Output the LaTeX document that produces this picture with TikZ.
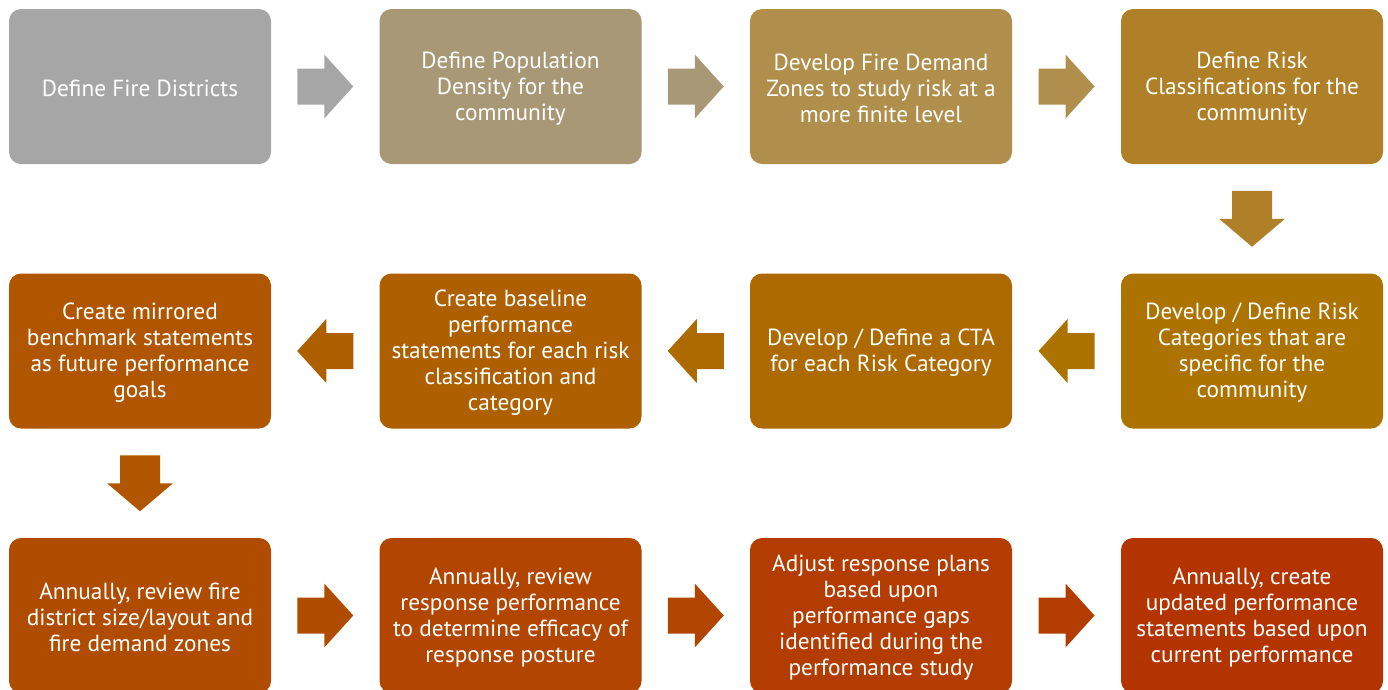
\documentclass[tikz,border=0pt]{standalone}
\usepackage{fontspec}
\setmainfont{PT Sans}
\usetikzlibrary{calc}
\definecolor{c1}{HTML}{A6A6A6}
\definecolor{c2}{HTML}{A99876}
\definecolor{c3}{HTML}{B08F4C}
\definecolor{c4}{HTML}{AF8027}
\definecolor{c5}{HTML}{AC7300}
\definecolor{c6}{HTML}{AD6A00}
\definecolor{c7}{HTML}{AE6000}
\definecolor{c8}{HTML}{B05600}
\definecolor{c9}{HTML}{B04C00}
\definecolor{c10}{HTML}{B24500}
\definecolor{c11}{HTML}{B33D00}
\definecolor{c12}{HTML}{B43400}
\newcommand\rarr[3]{\fill[#3] ($(#1.east)!0.5!(#2.west)$) ++(-28,-18) -- ++(27,0) -- ++(0,-14) -- ++(29,32) -- ++(-29,32) -- ++(0,-14) -- ++(-27,0) -- cycle;}
\newcommand\larr[3]{\fill[#3] ($(#1.west)!0.5!(#2.east)$) ++(28,-18) -- ++(-27,0) -- ++(0,-14) -- ++(-29,32) -- ++(29,32) -- ++(0,-14) -- ++(27,0) -- cycle;}
\newcommand\darr[3]{\fill[#3] ($(#1.south)!0.5!(#2.north)$) ++(-20,-28) -- ++(40,0) -- ++(0,28) -- ++(13,0) -- ++(-33,28) -- ++(-33,-28) -- ++(13,0) -- cycle;}
\tikzset{
  stepbox/.style={fill=#1, rounded corners=12pt, minimum width=262pt, minimum height=155pt,
    text=white, align=center, inner sep=0pt, font=\fontsize{23.3}{26}\selectfont},
  lbl/.style={text=white, align=center, inner sep=0pt, yshift=-2pt, font=\fontsize{23.3}{26}\selectfont},
}
\begin{document}
\begin{tikzpicture}[x=1pt,y=-1pt]
\useasboundingbox (0,0) rectangle (1388,689);
\node[stepbox=c1] (b1) at (140,86.5) {};
\node[stepbox=c2] (b2) at (510.5,86.5) {};
\node[stepbox=c3] (b3) at (881,86.5) {};
\node[stepbox=c4] (b4) at (1252,86.5) {};
\node[stepbox=c5] (b5) at (1252,351) {};
\node[stepbox=c6] (b6) at (881,351) {};
\node[stepbox=c7] (b7) at (510.5,351) {};
\node[stepbox=c8] (b8) at (140,351) {};
\node[stepbox=c9] (b9) at (140,615.5) {};
\node[stepbox=c10] (b10) at (510.5,615.5) {};
\node[stepbox=c11] (b11) at (881,615.5) {};
\node[stepbox=c12] (b12) at (1252,615.5) {};
\node[lbl] (t1) at (b1) {Define Fire Districts};
\node[lbl] (t2) at (b2) {Define Population\\Density for the\\community};
\node[lbl] (t3) at (b3) {Develop Fire Demand\\Zones to study risk at a\\more finite level};
\node[lbl] (t4) at (b4) {Define Risk\\Classifications for the\\community};
\node[lbl] (t5) at (b5) {Develop / Define Risk\\Categories that are\\specific for the\\community};
\node[lbl] (t6) at (b6) {Develop / Define a CTA\\for each Risk Category};
\node[lbl] (t7) at (b7) {Create baseline\\performance\\statements for each risk\\classification and\\category};
\node[lbl] (t8) at (b8) {Create mirrored\\benchmark statements\\as future performance\\goals};
\node[lbl] (t9) at (b9) {Annually, review fire\\district size/layout and\\fire demand zones};
\node[lbl] (t10) at (b10) {Annually, review\\response performance\\to determine efficacy of\\response posture};
\node[lbl] (t11) at (b11) {Adjust response plans\\based upon\\performance gaps\\identified during the\\performance study};
\node[lbl] (t12) at (b12) {Annually, create\\updated performance\\statements based upon\\current performance};
\rarr{b1}{b2}{c1}
\rarr{b2}{b3}{c2}
\rarr{b3}{b4}{c3}
\darr{b4}{b5}{c4}
\larr{b5}{b6}{c5}
\larr{b6}{b7}{c6}
\larr{b7}{b8}{c7}
\darr{b8}{b9}{c8}
\rarr{b9}{b10}{c9}
\rarr{b10}{b11}{c10}
\rarr{b11}{b12}{c11}
\end{tikzpicture}
\end{document}
